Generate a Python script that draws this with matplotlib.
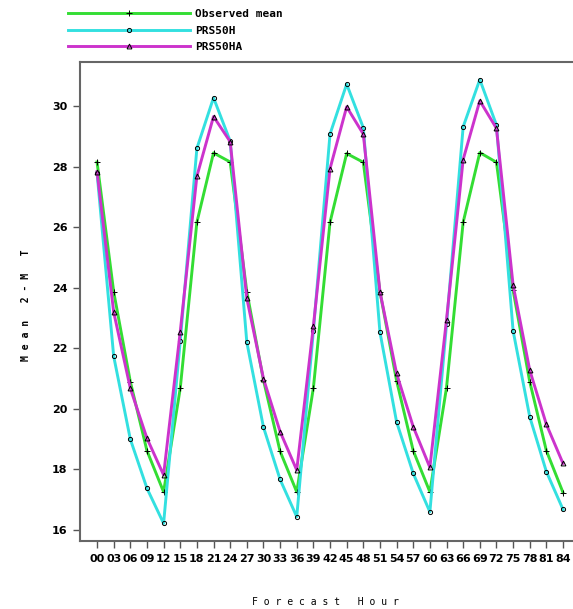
import matplotlib
matplotlib.use("Agg")
from matplotlib import pyplot as plt

hours = list(range(0, 85, 3))
hour_labels = ["%02d" % h for h in hours]

observed = [28.15, 23.87, 20.9, 18.62, 17.26, 20.68, 26.16, 28.45,
            28.15, 23.87, 20.95, 18.6, 17.26, 20.69, 26.16, 28.43,
            28.14, 23.87, 20.93, 18.62, 17.26, 20.7, 26.16, 28.46,
            28.14, 23.92, 20.9, 18.62, 17.24]
prs50h = [27.8, 21.74, 19.0, 17.38, 16.22, 22.24, 28.6, 30.27,
          28.84, 22.2, 19.4, 17.67, 16.44, 22.58, 29.07, 30.72,
          29.28, 22.53, 19.57, 17.87, 16.6, 22.79, 29.31, 30.87,
          29.37, 22.58, 19.74, 17.93, 16.68]
prs50ha = [27.83, 23.2, 20.68, 19.03, 17.82, 22.55, 27.68, 29.65,
           28.82, 23.65, 21.0, 19.25, 17.98, 22.73, 27.93, 29.97,
           29.07, 23.87, 21.17, 19.41, 18.07, 22.95, 28.23, 30.17,
           29.26, 24.09, 21.28, 19.49, 18.2]
yticks = [16, 18, 20, 22, 24, 26, 28, 30]

fig = plt.figure(figsize=(5.73, 6.09), dpi=100)
ax = fig.add_axes([80 / 573, 1 - 541 / 609, 493 / 573, 479 / 609])

series = [
    ("Observed mean", observed, "#33dd33", "+", 5),
    ("PRS50H", prs50h, "#33e0e0", "o", 3),
    ("PRS50HA", prs50ha, "#cc33cc", "^", 3.5),
]
handles = []
for name, vals, col, mk, ms in series:
    h, = ax.plot(hours, vals, color=col, lw=2.1, marker=mk, markersize=ms,
                 markeredgecolor="black", markerfacecolor="none",
                 markeredgewidth=0.7, label=name)
    handles.append(h)

ax.set_xlim(-3.07, 85.8)
ax.set_ylim(15.64, 31.45)
ax.set_xticks(hours)
ax.set_xticklabels(hour_labels, fontsize=8, fontweight="bold")
ax.set_yticks(yticks)
ax.set_yticklabels([str(v) for v in yticks], fontsize=8, fontweight="bold")
ax.tick_params(direction="out", length=5, width=1, color="#555555", pad=4)
for s in ["left", "bottom", "top"]:
    ax.spines[s].set_color("#666666")
    ax.spines[s].set_linewidth(1.5)
ax.spines["right"].set_visible(False)

fig.text(325 / 573, 1 - 602 / 609, "F o r e c a s t   H o u r", ha="center",
         va="center", fontsize=7, family="DejaVu Sans Mono")
fig.text(26 / 573, 1 - 305 / 609, "M e a n   2 - M   T", ha="center",
         va="center", rotation=90, fontsize=7, fontweight="bold",
         family="DejaVu Sans Mono")

fig.legend(handles=handles, loc="upper left",
           bbox_to_anchor=(58 / 573, 1 + 1 / 609), frameon=False,
           numpoints=1, handlelength=11.0, handletextpad=0.4,
           labelspacing=0.6, prop={"family": "DejaVu Sans Mono",
                                   "weight": "bold", "size": 8})

plt.savefig("out.png", dpi=100)
